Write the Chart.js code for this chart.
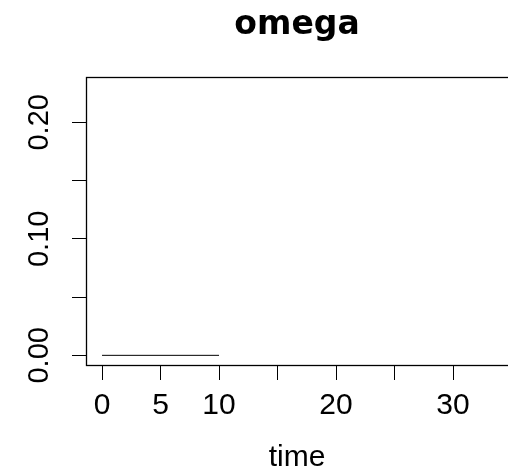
<!DOCTYPE html>
<html>
<head>
<meta charset="utf-8">
<script src="https://cdn.jsdelivr.net/npm/chart.js@4.4.0/dist/chart.umd.min.js"></script>
<style>
  html, body { margin: 0; padding: 0; background: #fff; overflow: hidden; }
  canvas { display: block; }
</style>
</head>
<body>
<canvas id="omegaChart" width="508" height="474"></canvas>
<script>
// omega against time
const time = [0, 10];
const omega = [0, 0];

const xTicks = [0, 5, 10, 15, 20, 25, 30];
const xTickLabels = ['0', '5', '10', '', '20', '', '30'];
const yTicks = [0, 0.05, 0.10, 0.15, 0.20];
const yTickLabels = ['0.00', '', '0.10', '', '0.20'];

const FONT = "'Liberation Sans', Arial, Helvetica, sans-serif";

// box round the plot region (right side runs past the canvas edge) and rotated y labels
const framePlugin = {
    id: 'frame',
    afterDraw(chart) {
        const { ctx, chartArea: a, scales: { y } } = chart;
        ctx.save();
        ctx.strokeStyle = '#000';
        ctx.lineWidth = 1.3;
        ctx.strokeRect(a.left + 0.5, a.top + 0.5, a.right - a.left + 4, a.bottom - a.top);
        ctx.font = '29px ' + FONT;
        ctx.fillStyle = '#000';
        ctx.textAlign = 'center';
        ctx.textBaseline = 'middle';
        yTicks.forEach((v, i) => {
            if (!yTickLabels[i]) return;
            ctx.save();
            ctx.translate(40, y.getPixelForValue(v));
            ctx.rotate(-Math.PI / 2);
            ctx.fillText(yTickLabels[i], 0, 0);
            ctx.restore();
        });
        ctx.restore();
    }
};

const chartElem = document.getElementById('omegaChart');
new Chart(chartElem.getContext('2d'), {
    type: 'line',
    data: {
        datasets: [{
            data: time.map((t, i) => ({ x: t, y: omega[i] })),
            borderColor: '#000',
            borderWidth: 1,
            pointRadius: 0,
            fill: false,
            tension: 0
        }]
    },
    options: {
        responsive: false,
        animation: false,
        devicePixelRatio: 1,
        events: [],
        layout: { padding: 0 },
        plugins: {
            legend: { display: false },
            tooltip: { enabled: false },
            title: {
                display: true,
                text: 'omega',
                fullSize: false,
                color: '#000',
                font: { family: "'DejaVu Sans', " + FONT, size: 33, weight: 'bold', lineHeight: 1 },
                padding: { top: 9, bottom: 35 }
            }
        },
        scales: {
            x: {
                type: 'linear',
                min: -1.37,
                max: 34.7,
                afterBuildTicks: s => { s.ticks = xTicks.map(v => ({ value: v })); },
                afterFit: s => { s.height = 109; },
                grid: { drawOnChartArea: false, tickLength: 15, color: '#000', lineWidth: 1 },
                border: { display: false },
                ticks: {
                    color: '#000',
                    font: { family: FONT, size: 30 },
                    padding: 8,
                    maxRotation: 0,
                    autoSkip: false,
                    callback: v => xTickLabels[xTicks.indexOf(v)]
                },
                title: {
                    display: true,
                    text: 'time',
                    color: '#000',
                    font: { family: FONT, size: 30, lineHeight: 1.1 },
                    padding: 0
                }
            },
            y: {
                type: 'linear',
                min: -0.0083,
                max: 0.2389,
                afterBuildTicks: s => { s.ticks = yTicks.map(v => ({ value: v })); },
                afterFit: s => { s.width = 86; },
                grid: { drawOnChartArea: false, tickLength: 14, color: '#000', lineWidth: 1 },
                border: { display: false },
                ticks: { display: false }
            }
        }
    },
    plugins: [framePlugin]
});
</script>
</body>
</html>
